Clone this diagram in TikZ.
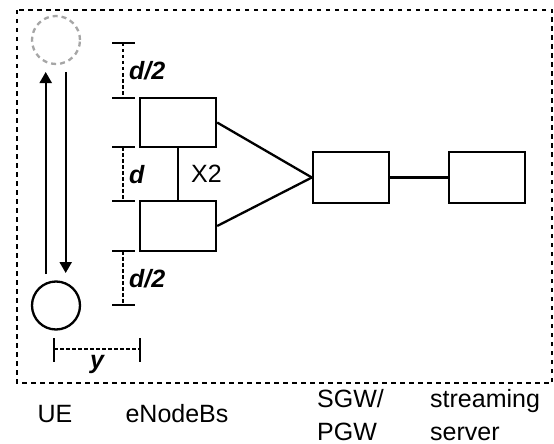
\documentclass[tikz,border=0pt]{standalone}
\usepackage{fontspec}
\setmainfont{Liberation Sans}
\usetikzlibrary{arrows.meta}
\begin{document}
\begin{tikzpicture}[x=1pt,y=-1pt,
  font=\fontsize{25}{33}\selectfont,
  frame/.style={line width=1.6pt,dash pattern=on 4.5pt off 4.5pt},
  netbox/.style={draw,line width=2.3pt,rectangle,minimum width=76pt,minimum height=50pt,inner sep=0pt},
  uecirc/.style={draw,line width=2.3pt,circle,minimum size=48pt,inner sep=0pt},
  ghost/.style={draw=black!35,line width=2.3pt,circle,minimum size=48pt,inner sep=0pt,dash pattern=on 5pt off 4pt},
  link/.style={line width=2.3pt},
  move/.style={line width=2.3pt,-{Triangle[length=11pt,width=12pt]}},
  dimline/.style={line width=2pt,dash pattern=on 3.5pt off 2.5pt},
  tick/.style={line width=2pt},
  dimlabel/.style={font=\fontsize{25}{28}\selectfont\bfseries\itshape,inner sep=0pt,anchor=base west},
  lbl/.style={inner sep=0pt,anchor=base west,align=left}
]
\useasboundingbox (0,0) rectangle (554,444);
% frame
\draw[frame] (17,10) rectangle (552,383);
% UE
\node[ghost] (ueghost) at (56,40) {};
\node[uecirc] (ue) at (56,305.5) {};
\coordinate (upS) at (45.7,274);
\coordinate (upE) at (45.7,72);
\coordinate (dnS) at (65.7,72);
\coordinate (dnE) at (65.7,273);
\draw[move] (upS) -- (upE);
\draw[move] (dnS) -- (dnE);
% boxes
\node[netbox,minimum height=49pt] (enb1) at (178,122.5) {};
\node[netbox] (enb2) at (178,226) {};
\node[netbox,minimum height=51pt] (sgw) at (351,177.5) {};
\node[netbox,minimum height=51pt] (srv) at (487,177.5) {};
\draw[link] (enb1.east) -- (sgw.west);
\draw[link] (enb2.east) -- (sgw.west);
\draw[link] (sgw.east) -- (srv.west);
\draw[link] (enb1) -- (enb2);
\node[lbl] (x2) at (191,182) {X2};
% vertical dimensions
\foreach \n/\yy in {t1/43,t2/98,t3/147,t4/201,t5/251,t6/305}{
  \coordinate (\n) at (123,\yy);
  \draw[tick] (112,\yy) -- (135,\yy);
}
\draw[dimline] (t1) -- (t2);
\draw[dimline] (t3) -- (t4);
\draw[dimline] (t5) -- (t6);
\node[dimlabel] (dh1) at (129,80) {d/2};
\node[dimlabel] (dd) at (129,183) {d};
\node[dimlabel] (dh2) at (129,287) {d/2};
% horizontal dimension
\coordinate (ya) at (54,349);
\coordinate (yb) at (140,349);
\draw[tick] (54,338) -- (54,362);
\draw[tick] (140,338) -- (140,362);
\draw[dimline] (ya) -- (yb);
\node[dimlabel] (ylab) at (90,368) {y};
% bottom labels
\node[lbl,anchor=base] (uel) at (55,422) {UE};
\node[lbl,anchor=base] (enbl) at (177,422) {eNodeBs};
\node[lbl] (sgwl) at (317,440) {SGW/\\PGW};
\node[lbl] (srvl) at (430,440) {streaming\\server};
\end{tikzpicture}
\end{document}
